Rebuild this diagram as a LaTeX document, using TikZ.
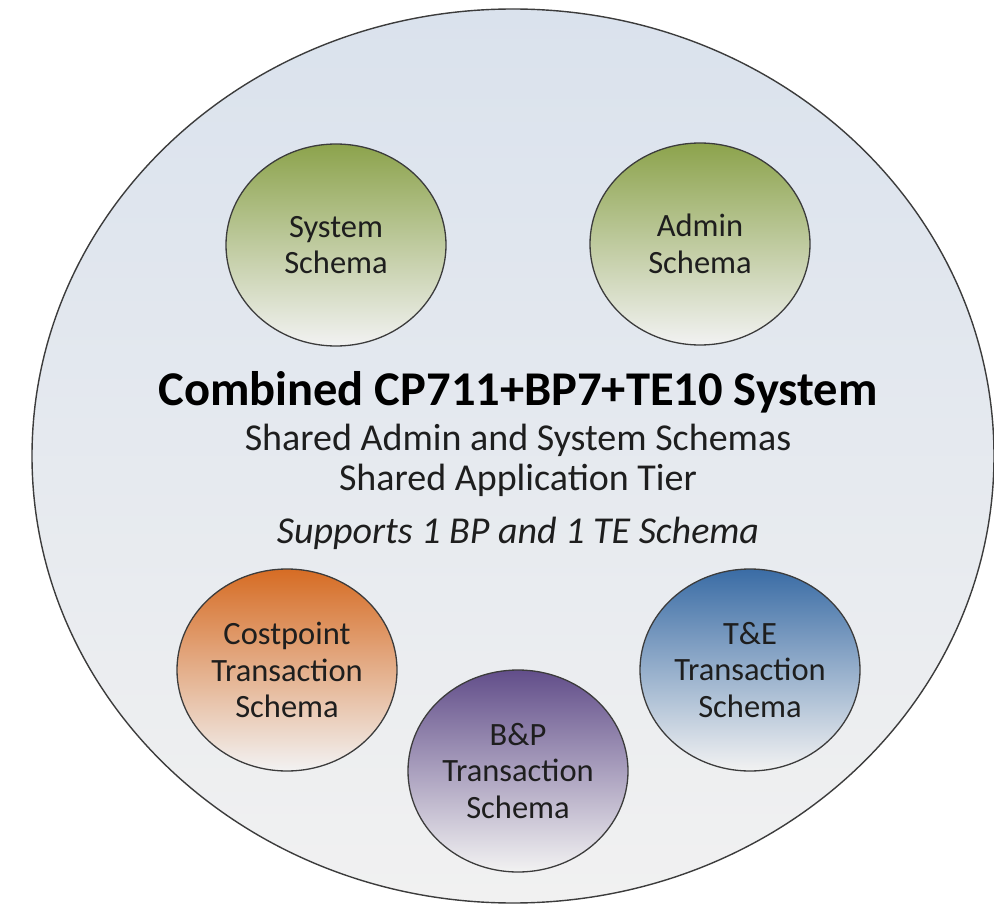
\documentclass[tikz,border=0pt]{standalone}
\usepackage{fontspec}
\setmainfont{Carlito}
\usetikzlibrary{shapes.geometric}
\definecolor{bigtop}{RGB}{218,226,237}
\definecolor{bigbot}{RGB}{241,241,241}
\definecolor{greentop}{RGB}{140,163,76}
\definecolor{orangetop}{RGB}{214,108,36}
\definecolor{purpletop}{RGB}{98,78,138}
\definecolor{bluetop}{RGB}{58,108,165}
\definecolor{lighbot}{RGB}{242,242,242}
\definecolor{edgegray}{RGB}{60,60,60}
\definecolor{txt}{RGB}{30,30,30}
\tikzset{
  schema/.style={ellipse, draw=edgegray, line width=1.3pt, inner sep=0pt,
    minimum width=220pt, minimum height=202pt, align=center,
    font=\fontsize{32.5}{36.5}\selectfont, text=txt,
    bottom color=lighbot},
  bigcirc/.style={ellipse, draw=edgegray, line width=1.4pt, inner sep=0pt,
    minimum width=962pt, minimum height=894pt, top color=bigtop, bottom color=bigbot},
  titletext/.style={font=\fontsize{48.5}{56}\selectfont\bfseries, text=black, anchor=base, inner sep=0pt},
  subtext/.style={font=\fontsize{38}{44}\selectfont, text=txt, anchor=base, inner sep=0pt},
}
\begin{document}
\begin{tikzpicture}[x=1pt,y=-1pt]
\useasboundingbox (0,0) rectangle (994,904);
\node[bigcirc] (outer) at (513,456) {};
\node[schema, top color=greentop] (sys) at (336,245) {System\\Schema};
\node[schema, top color=greentop] (adm) at (700,244) {Admin\\Schema};
\node[schema, top color=orangetop] (cp) at (287,670) {Costpoint\\Transaction\\Schema};
\node[schema, top color=purpletop] (bp) at (518,771) {B\&P\\Transaction\\Schema};
\node[schema, top color=bluetop] (te) at (750,670) {T\&E\\Transaction\\Schema};
\node[titletext] (title) at (518,405) {Combined CP711+BP7+TE10 System};
\node[subtext] (shared1) at (518,450) {Shared Admin and System Schemas};
\node[subtext] (shared2) at (518,490) {Shared Application Tier};
\node[subtext, font=\fontsize{38}{44}\selectfont\itshape] (supports) at (518,543) {Supports 1 BP and 1 TE Schema};
\end{tikzpicture}
\end{document}
